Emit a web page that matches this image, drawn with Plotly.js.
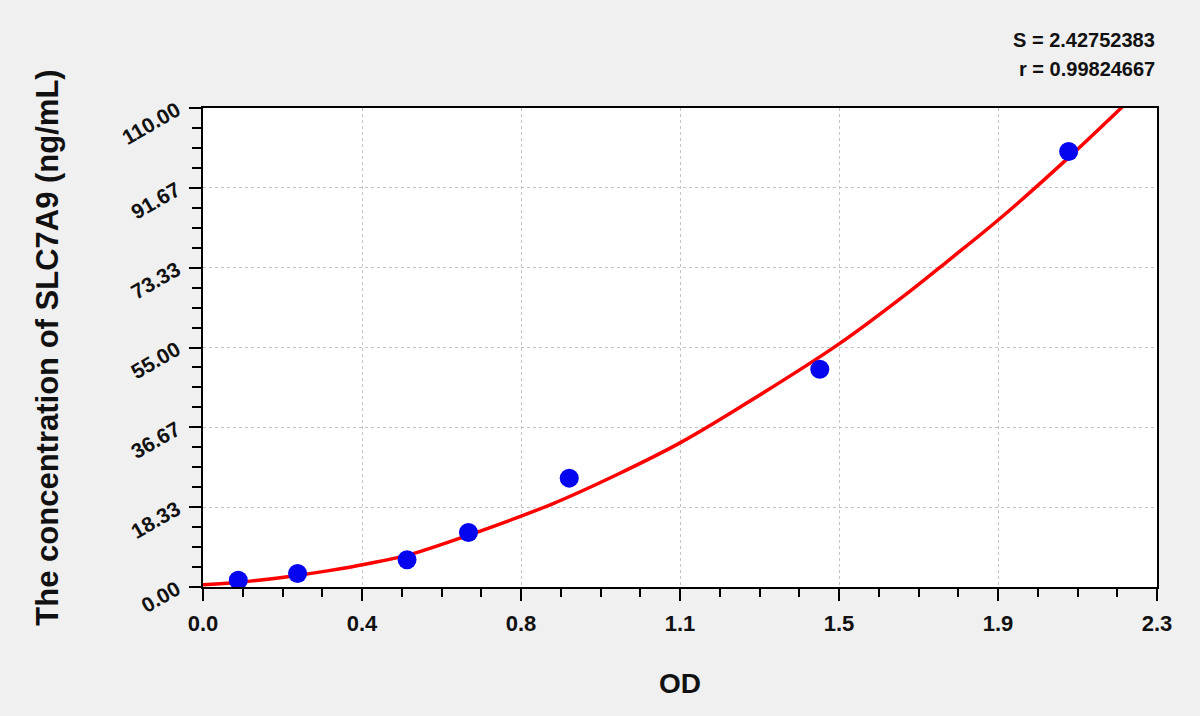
<!DOCTYPE html>
<html>
<head>
<meta charset="utf-8">
<script src="https://cdn.plot.ly/plotly-3.0.1.min.js"></script>
<style>
  html, body { margin: 0; padding: 0; background: #f0f0f0; }
  #chart { width: 1200px; height: 716px; }
</style>
</head>
<body>
<div id="chart"></div>
<script>
// standard points (OD vs concentration)
var odValues = [0.085, 0.228, 0.492, 0.640, 0.883, 1.487, 2.087];
var concValues = [1.56, 3.12, 6.25, 12.5, 25, 50, 100];

// fitted curve
var curveOd = [0.00, 0.10, 0.20, 0.30, 0.40, 0.50, 0.64, 0.84, 1.00, 1.15, 1.30, 1.53, 1.70, 1.80, 1.92, 2.09, 2.22];
var curveConc = [0.5, 1.2, 2.3, 3.7, 5.4, 7.5, 11.9, 19.0, 25.9, 33.1, 41.6, 55.6, 67.6, 75.2, 84.5, 98.9, 110.6];

var xTickVals = [0, 2.3 / 6, 2 * 2.3 / 6, 3 * 2.3 / 6, 4 * 2.3 / 6, 5 * 2.3 / 6, 2.3];
var xTickText = ['0.0', '0.4', '0.8', '1.1', '1.5', '1.9', '2.3'];
var yTickVals = [0, 110 / 6, 2 * 110 / 6, 3 * 110 / 6, 4 * 110 / 6, 5 * 110 / 6, 110];
var yTickText = ['0.00', '18.33', '36.67', '55.00', '73.33', '91.67', '110.00'];

var fontFam = 'Arial, "Liberation Sans", sans-serif';

function bold(arr) {
    return arr.map(function (t) { return '<b>' + t + '</b>'; });
}

var curve = {
    x: curveOd,
    y: curveConc,
    type: 'scatter',
    mode: 'lines',
    line: { color: '#ff0000', width: 3.5, shape: 'spline', smoothing: 1 },
    hoverinfo: 'skip'
};

var points = {
    x: odValues,
    y: concValues,
    type: 'scatter',
    mode: 'markers',
    marker: { color: '#0505f0', size: 19 }
};

var layout = {
    width: 1200,
    height: 716,
    paper_bgcolor: '#f0f0f0',
    plot_bgcolor: '#ffffff',
    showlegend: false,
    margin: { l: 203, r: 43, t: 108, b: 129 },
    font: { family: fontFam, color: '#111111' },
    xaxis: {
        range: [0, 2.3],
        tickmode: 'array',
        tickvals: xTickVals,
        ticktext: bold(xTickText),
        ticks: 'outside',
        ticklen: 12,
        tickwidth: 2,
        tickcolor: '#000',
        ticklabelstandoff: 4,
        tickfont: { family: fontFam, size: 22, color: '#111' },
        showline: true,
        linecolor: '#000',
        linewidth: 2,
        mirror: true,
        showgrid: true,
        gridcolor: '#c4c4c4',
        griddash: 'dot',
        gridwidth: 1,
        zeroline: false,
        minor: { tick0: 0, dtick: 2.3 / 24, ticks: 'outside', ticklen: 8, tickwidth: 2, tickcolor: '#000', showgrid: false },
        title: { text: '<b>OD</b>', font: { family: fontFam, size: 28, color: '#111' }, standoff: 38 }
    },
    yaxis: {
        range: [0, 110],
        tickmode: 'array',
        tickvals: yTickVals,
        ticktext: bold(yTickText),
        tickangle: -30,
        ticks: 'outside',
        ticklen: 12,
        tickwidth: 2,
        tickcolor: '#000',
        ticklabelstandoff: 8,
        tickfont: { family: fontFam, size: 21, color: '#111' },
        showline: true,
        linecolor: '#000',
        linewidth: 2,
        mirror: true,
        showgrid: true,
        gridcolor: '#c4c4c4',
        griddash: 'dot',
        gridwidth: 1,
        zeroline: false,
        minor: { tick0: 0, dtick: 110 / 24, ticks: 'outside', ticklen: 9, tickwidth: 2, tickcolor: '#000', showgrid: false },
        title: { text: '<b>The concentration of SLC7A9 (ng/mL)</b>', font: { family: fontFam, size: 31, color: '#111' }, standoff: 50 }
    },
    annotations: [
        {
            xref: 'paper', yref: 'paper', x: 1, y: 1, yshift: 68,
            xanchor: 'right', yanchor: 'middle', showarrow: false,
            text: '<b>S = 2.42752383</b>',
            font: { family: fontFam, size: 20, color: '#111' }
        },
        {
            xref: 'paper', yref: 'paper', x: 1, y: 1, yshift: 39,
            xanchor: 'right', yanchor: 'middle', showarrow: false,
            text: '<b>r = 0.99824667</b>',
            font: { family: fontFam, size: 20, color: '#111' }
        }
    ]
};

Plotly.newPlot(document.getElementById('chart'), [curve, points], layout, { displayModeBar: false });
</script>
</body>
</html>
